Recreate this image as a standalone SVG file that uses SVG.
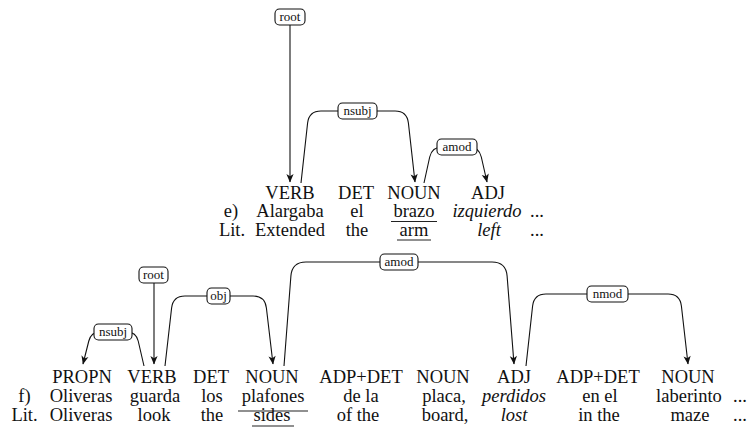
<svg xmlns="http://www.w3.org/2000/svg" width="751" height="428" viewBox="0 0 751 428">
  <defs>
    <marker id="head" viewBox="-9 -5 10 10" markerWidth="10" markerHeight="10" refX="0" refY="0" orient="auto" markerUnits="userSpaceOnUse">
      <path d="M0.5,0 L-8,-3.6 L-5.8,0 L-8,3.6 Z" fill="#111"/>
    </marker>
    <style>
      .tok { font-family: "Liberation Serif", serif; font-size: 18.5px; fill: #111; text-anchor: middle; }
      .it { font-style: italic; }
      .lab { font-family: "Liberation Serif", serif; font-size: 13px; fill: #111; text-anchor: middle; }
      .box { fill: #fff; stroke: #111; stroke-width: 1.1; }
      .arc { fill: none; stroke: #111; stroke-width: 1.1; marker-end: url(#head); }
      .ul { stroke: #222; stroke-width: 1.1; }
    </style>
  </defs>
  <rect width="751" height="428" fill="#fff"/>

  <!-- token columns -->
  <g id="tokens" class="tok">
    <!-- sentence e) -->
    <g id="e-label">
      <text x="231" y="217">e)</text>
      <text x="232" y="235.5">Lit.</text>
    </g>
    <g id="e-verb">
      <text x="290" y="198.5">VERB</text>
      <text x="290" y="217">Alargaba</text>
      <text x="290" y="235.5">Extended</text>
    </g>
    <g id="e-det">
      <text x="356" y="198.5">DET</text>
      <text x="357" y="217">el</text>
      <text x="357" y="235.5">the</text>
    </g>
    <g id="e-noun">
      <text x="414" y="198.5">NOUN</text>
      <text x="414" y="217">brazo</text>
      <line class="ul" x1="391" y1="221.5" x2="437" y2="221.5" stroke="#555"/>
      <text x="414" y="235.5">arm</text>
      <line class="ul" x1="397" y1="240" x2="431" y2="240"/>
    </g>
    <g id="e-adj">
      <text x="488" y="198.5">ADJ</text>
      <text class="it" x="487" y="217">izquierdo</text>
      <text class="it" x="489" y="235.5">left</text>
    </g>
    <g id="e-more">
      <text x="537" y="217">...</text>
      <text x="537" y="235.5">...</text>
    </g>

    <!-- sentence f) -->
    <g id="f-label">
      <text x="24.5" y="402">f)</text>
      <text x="24.5" y="421">Lit.</text>
    </g>
    <g id="f-propn">
      <text x="82" y="383">PROPN</text>
      <text x="81" y="402">Oliveras</text>
      <text x="81" y="421">Oliveras</text>
    </g>
    <g id="f-verb">
      <text x="152" y="383">VERB</text>
      <text x="155" y="402">guarda</text>
      <text x="154" y="421">look</text>
    </g>
    <g id="f-det">
      <text x="211" y="383">DET</text>
      <text x="212" y="402">los</text>
      <text x="212" y="421">the</text>
    </g>
    <g id="f-noun1">
      <text x="272" y="383">NOUN</text>
      <text x="273" y="402">plafones</text>
      <line class="ul" x1="238" y1="411" x2="308" y2="411" stroke="#444"/>
      <text x="272" y="421">sides</text>
      <line class="ul" x1="252" y1="426" x2="294" y2="426" stroke="#777" stroke-width="1.5"/>
    </g>
    <g id="f-adpdet1">
      <text x="361" y="383">ADP+DET</text>
      <text x="361" y="402">de la</text>
      <text x="358" y="421">of the</text>
    </g>
    <g id="f-noun2">
      <text x="443" y="383">NOUN</text>
      <text x="444" y="402">placa,</text>
      <text x="445" y="421">board,</text>
    </g>
    <g id="f-adj">
      <text x="514" y="383">ADJ</text>
      <text class="it" x="514" y="402">perdidos</text>
      <text class="it" x="514" y="421">lost</text>
    </g>
    <g id="f-adpdet2">
      <text x="598" y="383">ADP+DET</text>
      <text x="600" y="402">en el</text>
      <text x="599" y="421">in the</text>
    </g>
    <g id="f-noun3">
      <text x="688" y="383">NOUN</text>
      <text x="689" y="402">laberinto</text>
      <text x="690" y="421">maze</text>
    </g>
    <g id="f-more">
      <text x="740" y="402">...</text>
      <text x="740" y="421">...</text>
    </g>
  </g>

  <!-- dependency arcs with their relation labels -->
  <g id="connectors">
    <!-- e) -->
    <path class="arc" d="M290,25 V182"/>
    <path class="arc" d="M301,183 L307.6,123 Q309,111 321,111 H395 Q407,111 408.4,123 L415,182"/>
    <path class="arc" d="M424,183 L429.7,157 Q432,147 442,147 H469 Q479,147 481.3,157 L487,182"/>
    <!-- f) -->
    <path class="arc" d="M154,283 V364"/>
    <path class="arc" d="M144,366 L138.2,341 Q136,332 127,332 H100 Q91,332 88.8,341 L83,364"/>
    <path class="arc" d="M165,366 L171.6,308 Q173,296 185,296 H253 Q265,296 266.4,308 L273,364"/>
    <path class="arc" d="M284,366 L290.9,276 Q292,262 306,262 H492 Q506,262 507.1,276 L514,364"/>
    <path class="arc" d="M526,366 L532.6,306 Q534,294 546,294 H668 Q680,294 681.4,306 L688,364"/>

    <rect class="box" x="275" y="9" width="30" height="16" rx="4.5"/>
    <text class="lab" x="290" y="21">root</text>
    <rect class="box" x="338" y="103" width="39" height="16" rx="4.5"/>
    <text class="lab" x="357.5" y="115">nsubj</text>
    <rect class="box" x="437" y="139" width="40" height="16" rx="4.5"/>
    <text class="lab" x="457" y="151">amod</text>
    <rect class="box" x="139" y="267" width="29" height="16" rx="4.5"/>
    <text class="lab" x="153.5" y="279">root</text>
    <rect class="box" x="94" y="324" width="38" height="16" rx="4.5"/>
    <text class="lab" x="113" y="336">nsubj</text>
    <rect class="box" x="207" y="288" width="23" height="16" rx="4.5"/>
    <text class="lab" x="218.5" y="300">obj</text>
    <rect class="box" x="380" y="254" width="38" height="16" rx="4.5"/>
    <text class="lab" x="399" y="266">amod</text>
    <rect class="box" x="587" y="286" width="41" height="16" rx="4.5"/>
    <text class="lab" x="607.5" y="298">nmod</text>
  </g>
</svg>
